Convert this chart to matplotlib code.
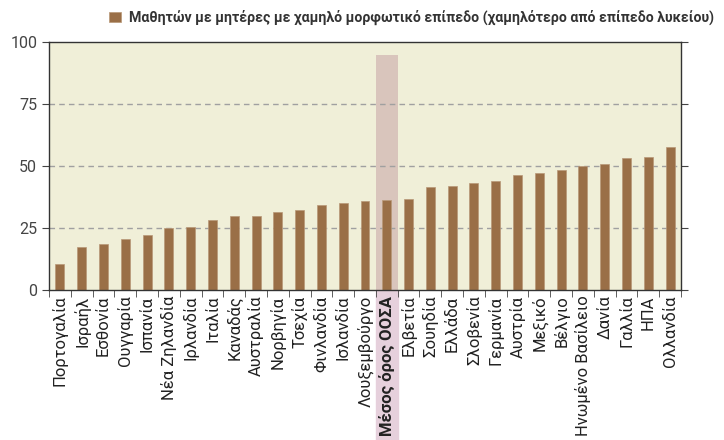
import matplotlib
matplotlib.use("Agg")
import matplotlib.pyplot as plt
from matplotlib.patches import Rectangle

plt.rcParams['font.family'] = ['Roboto', 'DejaVu Sans']

countries = ["Πορτογαλία", "Ισραήλ", "Εσθονία", "Ουγγαρία", "Ισπανία", "Νέα Ζηλανδία",
             "Ιρλανδία", "Ιταλία", "Καναδάς", "Αυστραλία", "Νορβηγία", "Τσεχία",
             "Φινλανδία", "Ισλανδία", "Λουξεμβούργο", "Μέσος όρος ΟΟΣΑ", "Ελβετία",
             "Σουηδία", "Ελλάδα", "Σλοβενία", "Γερμανία", "Αυστρία", "Μεξικό", "Βέλγιο",
             "Ηνωμένο Βασίλειο", "Δανία", "Γαλλία", "ΗΠΑ", "Ολλανδία"]
values = [10.4, 17.3, 18.4, 20.7, 22.2, 25.0, 25.4, 28.2, 29.7, 30.0, 31.3, 32.1,
          34.3, 35.0, 35.8, 36.2, 36.8, 41.5, 41.9, 43.0, 43.8, 46.4, 47.0, 48.5,
          50.1, 50.9, 53.1, 53.5, 57.5]
series_label = "Μαθητών με μητέρες με χαμηλό μορφωτικό επίπεδο (χαμηλότερο από επίπεδο λυκείου)"
oecd = "Μέσος όρος ΟΟΣΑ"

fig = plt.figure(figsize=(7.24, 4.40), dpi=100)
ax = fig.add_axes([0.0677, 0.341, 0.8729, 0.5635])
ax.set_facecolor('#F0EFD8')

x = list(range(len(countries)))
k = countries.index(oecd)

# highlight band for the OECD average
ax.bar(k, 94.8, width=1.0, color='#D9C5BC', zorder=1)
ax.add_patch(Rectangle((k - 0.5, -1), 1.0, 1, transform=ax.get_xaxis_transform(),
                       color='#E6D0DC', clip_on=False, zorder=0))

for yv in [25, 50, 75]:
    ax.axhline(yv, color='#A0A0A0', lw=1, ls=(0, (4, 3)), zorder=1.5)

bars = ax.bar(x, values, width=0.41, color='#9A6F47', edgecolor='#B89878', lw=0.5,
              zorder=2, label=series_label)

ax.set_xlim(-0.5, len(countries) - 0.5)
ax.set_ylim(0, 100)
ax.set_yticks([0, 25, 50, 75, 100])
ax.tick_params(axis='y', which='both', left=True, right=True, direction='out',
               length=5, color='#444444', labelsize=11.5, labelcolor='#444444')
ax.set_xticks(x)
ax.set_xticklabels(countries, rotation=90, fontsize=12, color='#222222')
ax.set_xticks([i - 0.5 for i in range(len(countries) + 1)], minor=True)
ax.tick_params(axis='x', which='major', length=0, pad=4)
ax.tick_params(axis='x', which='minor', length=5, color='#444444', direction='out')
for lab in ax.get_xticklabels():
    if lab.get_text() == oecd:
        lab.set_fontweight('bold')

for s in ax.spines.values():
    s.set_color('#333333')
    s.set_linewidth(1)

fig.legend(handles=[bars], labels=[series_label], loc='upper right',
           bbox_to_anchor=(1.0, 1.0), frameon=False, handlelength=0.8,
           handleheight=0.8, handletextpad=0.6, borderaxespad=0.3,
           prop={'weight': 'bold', 'size': 10.2})
for t in fig.legends[0].get_texts():
    t.set_color('#333333')

fig.savefig("out.png", dpi=100)
